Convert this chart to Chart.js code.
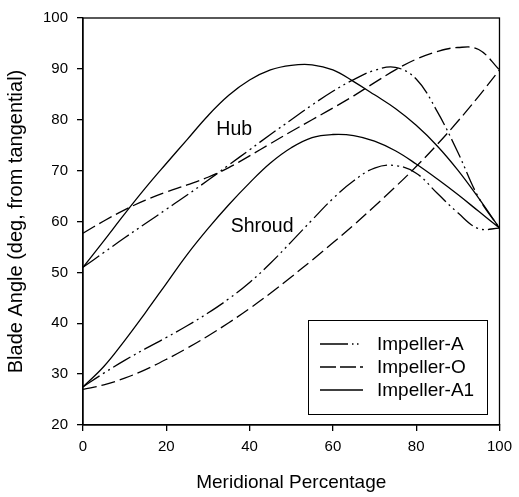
<!DOCTYPE html>
<html><head><meta charset="utf-8">
<script src="https://cdn.jsdelivr.net/npm/chart.js@4/dist/chart.umd.min.js"></script>
<style>html,body{margin:0;padding:0;background:#fff}#wrap{width:519px;height:497px;position:relative}</style>
</head><body><div id="wrap"><canvas id="c" width="519" height="497"></canvas></div>
<script>
// ---- data ----
const meridional = [0,5,10,15,20,25,30,35,40,45,50,55,60,65,70,75,80,85,90,95,100];
const hubA     = [51,53.9,56.8,59.6,62.4,65.2,68.1,71.1,74.1,77.1,80.0,82.9,85.6,87.9,89.7,90.3,88.0,81.7,73.6,64.7,58.7];
const shroudA  = [27.5,30.2,32.7,35.0,37.2,39.5,42.0,44.8,48.0,51.8,56.0,60.3,64.5,68.0,70.5,71.0,69.5,65.6,61.7,58.6,58.7];
const hubO     = [57.7,60.1,62.3,64.2,65.8,67.2,68.7,70.6,72.9,75.3,77.7,80.0,82.3,84.7,87.3,89.8,91.9,93.4,94.2,93.8,89.8];
const shroudO  = [27,27.9,29.2,30.9,32.9,35.1,37.5,40.1,42.9,45.9,49.1,52.4,55.8,59.3,63.0,66.8,70.8,75.1,79.7,84.6,89.8];
const hubA1    = [51,56.2,61.5,66.6,71.4,76.1,80.8,84.8,87.8,89.8,90.7,90.8,89.8,87.5,84.9,82.2,78.9,74.9,70.1,64.6,58.7];
const shroudA1 = [27.5,31.5,36.6,42.1,47.8,53.5,58.6,63.3,67.6,71.5,74.5,76.5,77.1,76.9,75.8,73.9,71.3,68.4,65.3,62.0,58.7];
const seriesNames = ['Impeller-A','Impeller-O','Impeller-A1'];
const curveLabels = ['Hub','Shroud'];
const xTicks = [0,20,40,60,80,100];
const yTicks = [20,30,40,50,60,70,80,90,100];

const FONT = '"Liberation Sans", Arial, Helvetica, sans-serif';
const dashes = { 'Impeller-A':[20,4,2,4,2,4], 'Impeller-O':[14,5], 'Impeller-A1':[] };
const legendDashes = { 'Impeller-A':[28,4,1.5,3.5,1.5,10], 'Impeller-O':[16,4], 'Impeller-A1':[] };

function pts(arr){ return meridional.map((x,i)=>({x:x,y:arr[i]})); }
function ds(name, arr){
  return { label:name, data:pts(arr), borderColor:'#000', borderWidth:1.3,
    borderDash:dashes[name], pointRadius:0, fill:false, tension:0.4 };
}
const datasets = [
  ds(seriesNames[0], hubA), ds(seriesNames[0], shroudA),
  ds(seriesNames[1], hubO), ds(seriesNames[1], shroudO),
  ds(seriesNames[2], hubA1), ds(seriesNames[2], shroudA1)
];

const framePlugin = {
  id:'frame',
  afterDatasetsDraw(chart){
    const {ctx, chartArea:a, scales} = chart;
    ctx.save();
    ctx.strokeStyle='#000'; ctx.lineWidth=1.3; ctx.setLineDash([]);
    ctx.strokeRect(a.left, a.top, a.right-a.left, a.bottom-a.top);
    // curve labels
    ctx.fillStyle='#000'; ctx.font='19.5px '+FONT; ctx.textAlign='center'; ctx.textBaseline='middle';
    ctx.fillText(curveLabels[0], scales.x.getPixelForValue(36.3), scales.y.getPixelForValue(78));
    ctx.fillText(curveLabels[1], scales.x.getPixelForValue(43), scales.y.getPixelForValue(59));
    // legend box
    const bx = a.left + 225, by = a.top + 302, bw = 179, bh = 94;
    ctx.fillStyle='#fff'; ctx.fillRect(bx,by,bw,bh);
    ctx.lineWidth=1; ctx.strokeStyle='#000'; ctx.strokeRect(bx+0.5,by+0.5,bw,bh);
    ctx.font='19px '+FONT; ctx.textAlign='left';
    seriesNames.forEach((name,i)=>{
      const y = by + 24 + i*23;
      ctx.lineWidth=1.3; ctx.setLineDash(legendDashes[name]);
      ctx.beginPath(); ctx.moveTo(bx+12,y); ctx.lineTo(bx+55,y); ctx.stroke();
      ctx.setLineDash([]);
      ctx.fillStyle='#000'; ctx.fillText(name, bx+69, y+1);
    });
    ctx.restore();
  }
};

new Chart(document.getElementById('c'), {
  type:'line',
  data:{ datasets },
  options:{
    responsive:false, devicePixelRatio:1, animation:false,
    layout:{ padding:{ left:0, right:16, top:13, bottom:0 } },
    plugins:{ legend:{display:false}, tooltip:{enabled:false} },
    scales:{
      x:{ type:'linear', min:0, max:100,
        afterBuildTicks(axis){ axis.ticks = xTicks.map(v=>({value:v})); },
        afterFit(axis){ axis.height = 72; },
        grid:{ display:true, drawOnChartArea:false, drawTicks:true, tickLength:6, color:'#000', lineWidth:1.3 },
        border:{ display:true, color:'#000', width:1.3 },
        ticks:{ color:'#000', padding:7, maxRotation:0, font:{ family:FONT, size:15 } },
        title:{ display:true, text:'Meridional Percentage', color:'#000', padding:{top:0,bottom:3}, font:{ family:FONT, size:19 } }
      },
      y:{ type:'linear', min:20, max:100,
        afterBuildTicks(axis){ axis.ticks = yTicks.map(v=>({value:v})); },
        afterFit(axis){ axis.width = 83; },
        grid:{ display:true, drawOnChartArea:false, drawTicks:true, tickLength:6, color:'#000', lineWidth:1.3 },
        border:{ display:true, color:'#000', width:1.3 },
        ticks:{ color:'#000', padding:9, font:{ family:FONT, size:15 } },
        title:{ display:true, text:'Blade Angle (deg, from tangential)', color:'#000', padding:{top:4,bottom:0}, font:{ family:FONT, size:20 } }
      }
    }
  },
  plugins:[framePlugin]
});
</script></body></html>
